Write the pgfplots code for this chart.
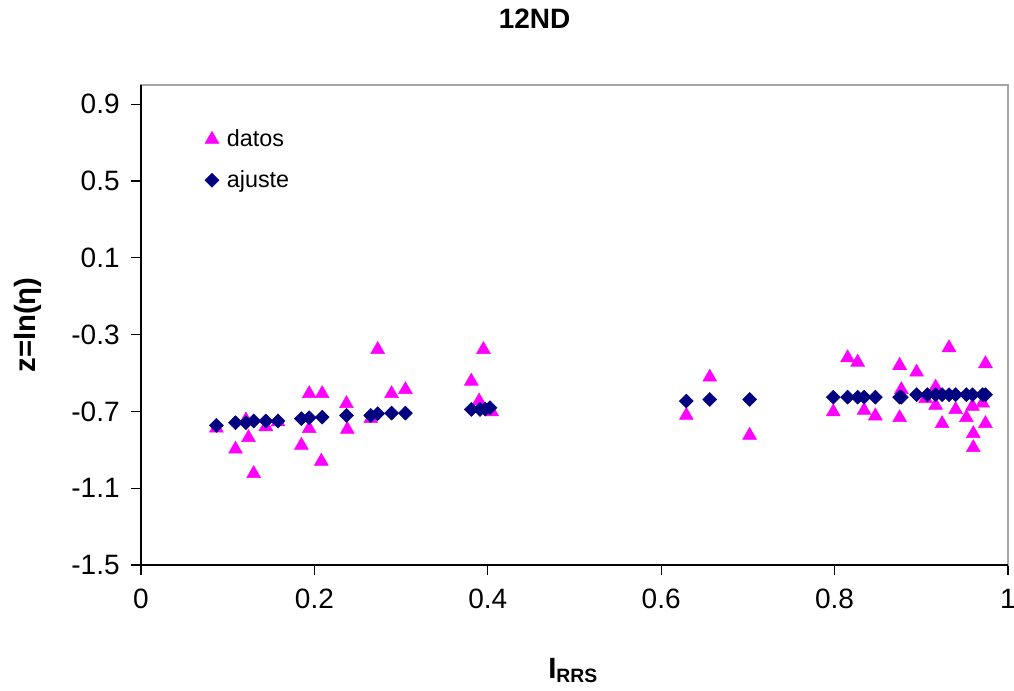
\documentclass[border=0pt]{standalone}
\usepackage{pgfplots}
\pgfplotsset{compat=1.18}
\usepackage{fontspec}
\setmainfont{Liberation Sans}
\definecolor{datoscol}{RGB}{255,0,255}
\definecolor{ajustecol}{RGB}{0,0,128}
\begin{document}
\begin{tikzpicture}
\useasboundingbox (0,0) rectangle (760.5pt,518.25pt);
\coordinate (O) at (105.75pt,94.5pt);
\begin{axis}[
  at={(O)}, anchor=south west,
  scale only axis, width=650.25pt, height=360pt,
  xmin=0, xmax=1, ymin=-1.5, ymax=1.0,
  xtick={0,0.2,0.4,0.6,0.8,1},
  xticklabels={0,0.2,0.4,0.6,0.8,1},
  ytick={-1.5,-1.1,-0.7,-0.3,0.1,0.5,0.9},
  yticklabels={-1.5,-1.1,-0.7,-0.3,0.1,0.5,0.9},
  xtick pos=bottom, ytick pos=left,
  tick align=outside, major tick length=7.5pt,
  tick style={black, line width=0.8pt},
  axis line style={draw=gray!70, line width=0.8pt},
  tick label style={font=\fontsize{21}{25}\selectfont},
  xticklabel style={yshift=-7pt},
  yticklabel style={xshift=-5pt},
  title={\textbf{12ND}},
  title style={at={(rel axis cs:0.454,1.121)}, anchor=center, font=\fontsize{21}{25}\selectfont},
  ylabel={\textbf{z=ln(η)}},
  ylabel style={at={(rel axis cs:-0.130,0.5)}, anchor=center, font=\fontsize{22}{26}\selectfont},
  xlabel={\textbf{I\raisebox{-3.5pt}{\fontsize{14.5}{15}\selectfont RRS}}},
  xlabel style={at={(rel axis cs:0.498,-0.22)}, anchor=center, font=\fontsize{22}{26}\selectfont},
  legend style={at={(rel axis cs:0.0735,0.9125)}, anchor=north west, draw=none, fill=none,
    font=\fontsize{17.5}{20}\selectfont, row sep=12.5pt, inner sep=0pt,
    /tikz/every odd column/.append style={column sep=4pt}},
  legend cell align=left,
  clip=false,
]
\addplot[only marks, mark=triangle*, mark size=6pt, color=datoscol, mark options={draw=none, fill=datoscol}]
coordinates {
(0.087,-0.787) (0.109,-0.897) (0.121,-0.745) (0.124,-0.837) (0.130,-1.024)
(0.144,-0.780) (0.158,-0.755) (0.185,-0.877) (0.194,-0.608) (0.194,-0.790)
(0.209,-0.608) (0.208,-0.960) (0.237,-0.660) (0.238,-0.794) (0.265,-0.738)
(0.273,-0.378) (0.289,-0.608) (0.305,-0.587)
(0.381,-0.543) (0.390,-0.646) (0.395,-0.378) (0.4045,-0.703)
(0.629,-0.721) (0.656,-0.522) (0.702,-0.825)
(0.7985,-0.703) (0.815,-0.421) (0.8266,-0.444) (0.834,-0.695) (0.847,-0.724)
(0.875,-0.461) (0.875,-0.733) (0.877,-0.587)
(0.8946,-0.496) (0.905,-0.634) (0.9165,-0.574) (0.9165,-0.669) (0.924,-0.764)
(0.932,-0.369) (0.9396,-0.691) (0.952,-0.733)
(0.959,-0.674) (0.960,-0.816) (0.960,-0.889) (0.9707,-0.657)
(0.974,-0.452) (0.974,-0.764)
};
\addlegendentry{datos}
\addplot[only marks, mark=square*, mark size=3.7pt, color=ajustecol, mark options={rotate=45, draw=none, fill=ajustecol}]
coordinates {
(0.087,-0.773) (0.109,-0.759) (0.121,-0.759) (0.130,-0.750) (0.144,-0.750)
(0.158,-0.750) (0.185,-0.738) (0.194,-0.733) (0.209,-0.730) (0.237,-0.721)
(0.265,-0.721) (0.273,-0.712) (0.289,-0.709) (0.305,-0.709)
(0.381,-0.690) (0.391,-0.690) (0.397,-0.688) (0.4025,-0.681)
(0.629,-0.646) (0.656,-0.638) (0.702,-0.638)
(0.7985,-0.626) (0.815,-0.626) (0.8266,-0.626) (0.834,-0.626) (0.847,-0.626)
(0.875,-0.626) (0.877,-0.626)
(0.8946,-0.613) (0.907,-0.613) (0.9165,-0.613) (0.924,-0.613) (0.932,-0.613)
(0.9396,-0.613) (0.952,-0.613) (0.959,-0.613) (0.9707,-0.613) (0.974,-0.613)
};
\addlegendentry{ajuste}
\draw[black, line width=0.8pt] (rel axis cs:0,1) -- (rel axis cs:0,0) -- (rel axis cs:1,0);
\end{axis}
\end{tikzpicture}
\end{document}
